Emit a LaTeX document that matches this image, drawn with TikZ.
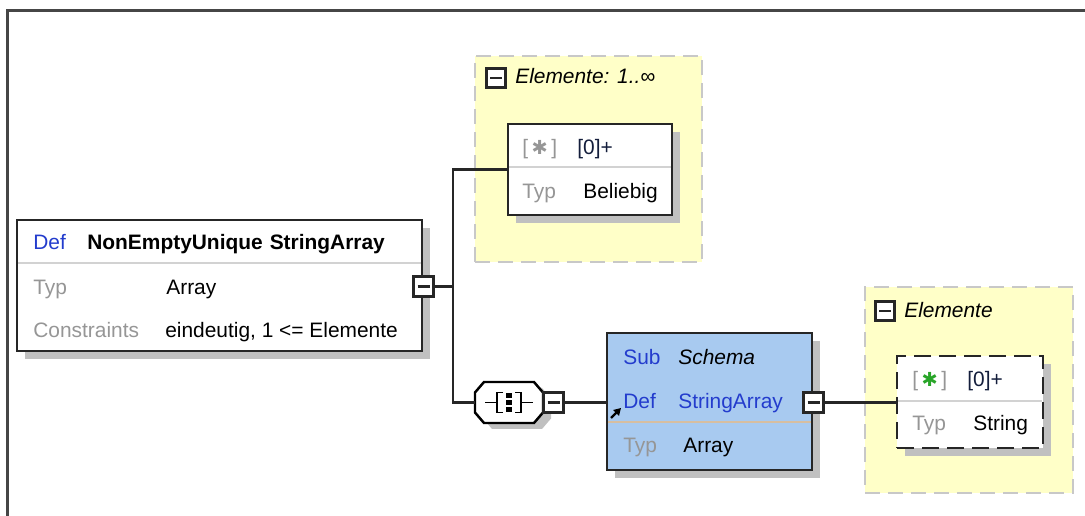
\documentclass[tikz,border=0pt]{standalone}
\usepackage{fontspec}
\setmainfont{Liberation Sans}
\newfontfamily\symfont{DejaVu Sans}
\usetikzlibrary{arrows.meta,positioning,shadows}
\definecolor{defblue}{RGB}{35,60,205}
\definecolor{lblgray}{RGB}{150,150,150}
\definecolor{grpyellow}{RGB}{255,255,200}
\definecolor{grpborder}{RGB}{200,200,200}
\definecolor{boxblue}{RGB}{168,202,240}
\definecolor{shadowgray}{RGB}{192,192,192}
\definecolor{seplight}{RGB}{210,210,210}
\definecolor{septan}{RGB}{215,190,160}
\definecolor{stargreen}{RGB}{40,165,40}
\definecolor{framegray}{RGB}{70,70,70}
\definecolor{cardink}{RGB}{20,30,60}
\newcommand{\cardstar}[1]{{\color{lblgray}[\,{\color{#1}\symfont\fontsize{11}{11}\selectfont ✱}\,]}}
\newcommand{\seqoutline}{(-34,-10) -- (-25,-20.5) -- (25,-20.5) -- (34,-10)
  -- (34,10) -- (25,20.5) -- (-25,20.5) -- (-34,10) -- cycle}

\begin{document}
\begin{tikzpicture}[
  x=0.02cm, y=-0.02cm,
  font=\fontsize{11.9}{14}\selectfont,
  boxshadow/.style = {drop shadow={shadow xshift=0.16cm, shadow yshift=-0.16cm,
    fill=shadowgray, opacity=1}},
  defbox/.style = {rectangle, draw=black!85, line width=1.4pt, fill=white,
    inner sep=0pt, boxshadow},
  grp/.style = {rectangle, draw=grpborder, fill=grpyellow, line width=1.2pt,
    dash pattern=on 0.3cm off 0.16cm, inner sep=0pt},
  collapse/.style = {rectangle, draw=black!85, fill=white, line width=1.4pt,
    minimum size=0.4cm, inner sep=0pt,
    path picture={\draw[line width=1.4pt]
      ([xshift=-0.12cm]path picture bounding box.center) --
      ([xshift=0.12cm]path picture bounding box.center);}},
  txt/.style = {anchor=base west, inner sep=0pt},
  keytxt/.style = {txt, text=lblgray},
  kwtxt/.style = {txt, text=defblue},
  sepline/.style = {line width=0.9pt},
  conn/.style = {draw=black!85, line width=1.3pt}
]
  \useasboundingbox (0,0) rectangle (1085,516);
  \draw[framegray, line width=1.3pt] (7.5,516) -- (7.5,10.5) -- (1085,10.5);

  % element groups
  \node[grp, minimum width=4.54cm, minimum height=4.12cm] (grpany) at (588.5,159) {};
  \node[grp, minimum width=4.16cm, minimum height=4.12cm] (grpstr) at (969,390) {};
  \node[collapse, minimum size=0.38cm] (grpanyc) at (496,78) {};
  \node[txt] (grpanyt) at (515,84) {\itshape Elemente: 1..∞};
  \node[collapse, minimum size=0.38cm] (grpstrc) at (885,311) {};
  \node[txt] (grpstrt) at (904,318) {\itshape Elemente};

  % definition box
  \node[defbox, minimum width=8.1cm, minimum height=2.62cm] (nonempty) at (219.5,285.5) {};
  \draw[sepline, seplight] (18,263) -- (421,263);
  \node[kwtxt]  (ne1k) at (33,250)  {Def};
  \node[txt]    (ne1v) at (87,250)  {\bfseries NonEmptyUnique\kern4pt StringArray};
  \node[keytxt] (ne2k) at (33,295)  {Typ};
  \node[txt]    (ne2v) at (166,295) {Array};
  \node[keytxt] (ne3k) at (33,338)  {Constraints};
  \node[txt]    (ne3v) at (165,338) {eindeutig, 1 <= Elemente};
  \node[collapse] (nonemptyc) at (423.5,286.5) {};

  % any item
  \node[defbox, minimum width=3.28cm, minimum height=1.82cm] (anyitem) at (590,169.5) {};
  \draw[sepline, seplight] (509,167) -- (671,167);
  \node[txt]    (any1k) at (522,155) {\cardstar{lblgray}};
  \node[txt, text=cardink] (any1v) at (577,155) {[0]+};
  \node[keytxt] (any2k) at (522,199) {Typ};
  \node[txt]    (any2v) at (583,199) {Beliebig};

  % sequence
  \node[inner sep=0pt, minimum width=1.36cm, minimum height=0.82cm] (seq) at (509,402.5) {};
  \begin{scope}[shift={(seq.center)}]
    \fill[shadowgray, shift={(8,6)}] \seqoutline;
    \draw[line width=1.4pt, fill=white] \seqoutline;
    \begin{scope}[line width=1.1pt]
      \draw (-24,0) -- (-12,0) (12,0) -- (24,0);
      \draw (-6,-10) -- (-12,-10) -- (-12,10) -- (-6,10);
      \draw (6,-10) -- (12,-10) -- (12,10) -- (6,10);
      \foreach \dy in {-7,0,7}
        \fill (-3,\dy-2.6) rectangle (3,\dy+2.6);
    \end{scope}
  \end{scope}
  \node[collapse] (seqc) at (553.5,402.5) {};

  % schema box
  \node[defbox, fill=boxblue, minimum width=4.1cm, minimum height=2.74cm] (schema) at (709.5,401.5) {};
  \draw[sepline, septan] (608,422) -- (811,422);
  \node[kwtxt]  (sch1k) at (623,365) {Sub};
  \node[txt]    (sch1v) at (678,365) {\itshape Schema};
  \node[kwtxt]  (sch2k) at (623,409) {Def};
  \node[kwtxt]  (sch2v) at (678,409) {StringArray};
  \node[keytxt] (sch3k) at (623,453) {Typ};
  \node[txt]    (sch3v) at (683,453) {Array};
  \draw[-{Triangle[length=4pt,width=4.5pt]}, line width=1.4pt] (611,418) -- (621,408);
  \node[collapse] (schemac) at (813.5,402.5) {};

  % string item
  \node[defbox, line width=1.6pt, dash pattern=on 0.34cm off 0.16cm,
    minimum width=2.92cm, minimum height=1.84cm] (stritem) at (970,402) {};
  \draw[sepline, seplight] (898,401) -- (1042,401);
  \node[txt]    (str1k) at (912,387) {\cardstar{stargreen}};
  \node[txt, text=cardink] (str1v) at (967,387) {[0]+};
  \node[keytxt] (str2k) at (912,431) {Typ};
  \node[txt]    (str2v) at (973,431) {String};

  % connectors
  \coordinate (fork) at (453,286.5);
  \draw[conn] (nonemptyc.east) -- (fork) |- (anyitem.west);
  \draw[conn] (fork) |- (seq.west);
  \draw[conn] (seqc.east) -- (schema.west |- seqc.east);
  \draw[conn] (schemac.east) -- (stritem.west |- schemac.east);
\end{tikzpicture}
\end{document}
